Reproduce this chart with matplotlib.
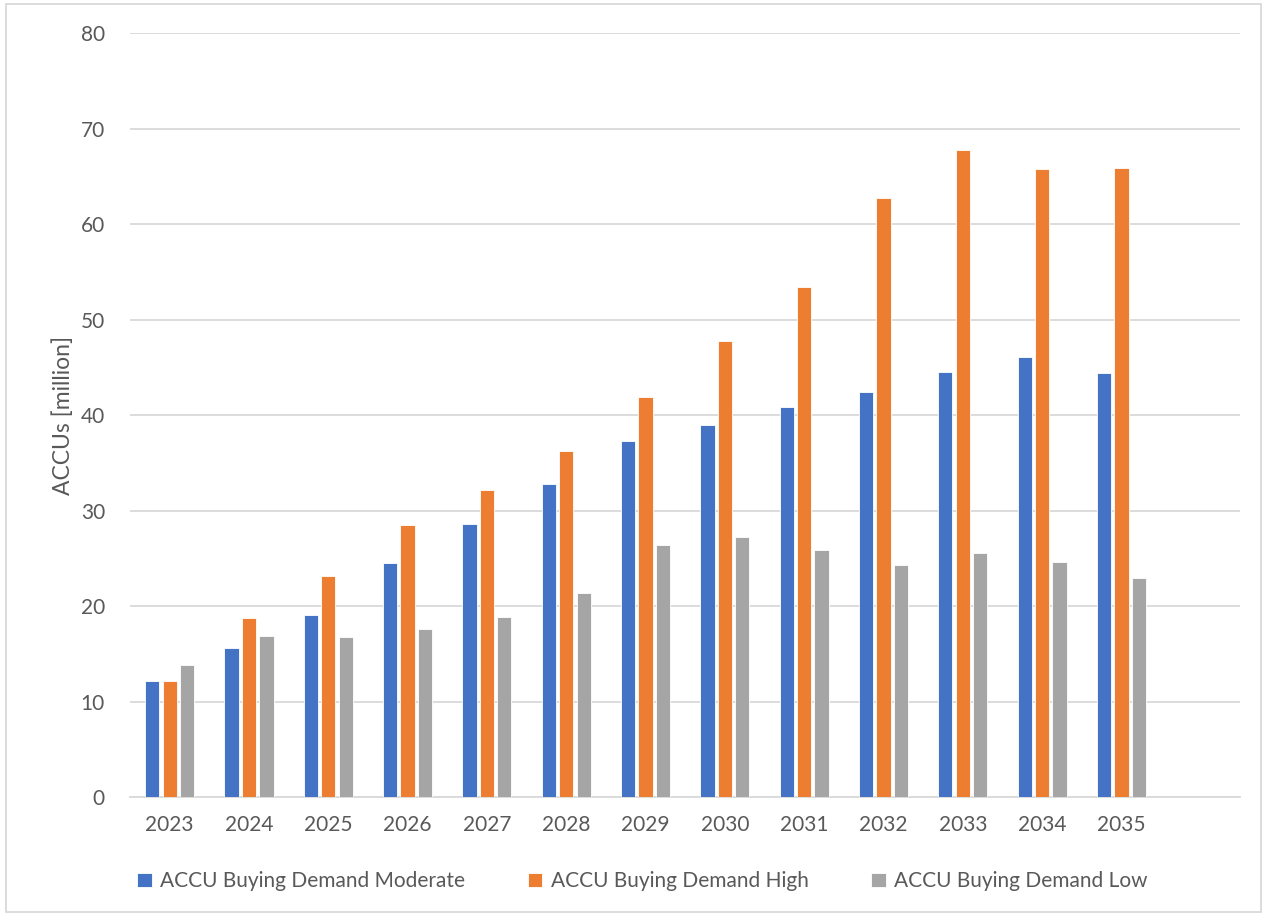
import numpy as np
import matplotlib.pyplot as plt
from matplotlib.patches import Rectangle

plt.rcParams['font.family'] = ['Lato', 'DejaVu Sans']

# Datos
anios = ["2023", "2024", "2025", "2026", "2027", "2028", "2029",
         "2030", "2031", "2032", "2033", "2034", "2035"]
moderada = [12.1, 15.6, 19.1, 24.5, 28.6, 32.8, 37.3, 39.0, 40.8, 42.4, 44.5, 46.1, 44.4]
alta = [12.2, 18.7, 23.1, 28.5, 32.2, 36.2, 41.9, 47.7, 53.4, 62.7, 67.8, 65.8, 65.9]
baja = [13.8, 16.9, 16.8, 17.6, 18.8, 21.4, 26.4, 27.2, 25.9, 24.3, 25.6, 24.6, 22.9]

series = [
    ("ACCU Buying Demand Moderate", moderada, "#4472C4"),
    ("ACCU Buying Demand High", alta, "#ED7D31"),
    ("ACCU Buying Demand Low", baja, "#A5A5A5"),
]

texto = "#595959"
rejilla = "#D9D9D9"

fig = plt.figure(figsize=(12.67, 9.18), dpi=100)
ax = fig.add_axes([0.1026, 0.1318, 0.8764, 0.8322])

x = np.arange(len(anios))
ancho = 0.18
paso = 0.22
for i, (nombre, valores, color) in enumerate(series):
    ax.bar(x + (i - 1) * paso, valores, width=ancho, color=color,
           edgecolor="white", linewidth=0.6, label=nombre, zorder=3)

# hay un hueco vacío a la derecha (como en Excel)
ax.set_xlim(-0.5, len(anios) + 0.5)
ax.set_ylim(0, 80)
ax.set_yticks(range(0, 81, 10))
ax.set_xticks(x)
ax.set_xticklabels(anios)

ax.grid(axis="y", color=rejilla, linewidth=1.3, zorder=0)
for lado in ["top", "right", "left"]:
    ax.spines[lado].set_visible(False)
ax.spines["bottom"].set_color(rejilla)
ax.spines["bottom"].set_linewidth(1.3)
ax.tick_params(axis="both", length=0, labelsize=15, colors=texto)
ax.tick_params(axis="y", pad=18)
ax.tick_params(axis="x", pad=13)
ax.set_ylabel("ACCUs [million]", fontsize=16.5, color=texto, labelpad=5)

fig.legend(loc="center", bbox_to_anchor=(0.507, 0.040), ncol=3, frameon=False,
           fontsize=15, labelcolor=texto, handlelength=0.7, handleheight=0.7,
           handletextpad=0.4, columnspacing=3.0)

# borde del gráfico
fig.patches.append(Rectangle((0.005, 0.006), 0.99, 0.99, transform=fig.transFigure,
                             fill=False, edgecolor=rejilla, linewidth=1.3))

fig.savefig("out.png", dpi=100)
